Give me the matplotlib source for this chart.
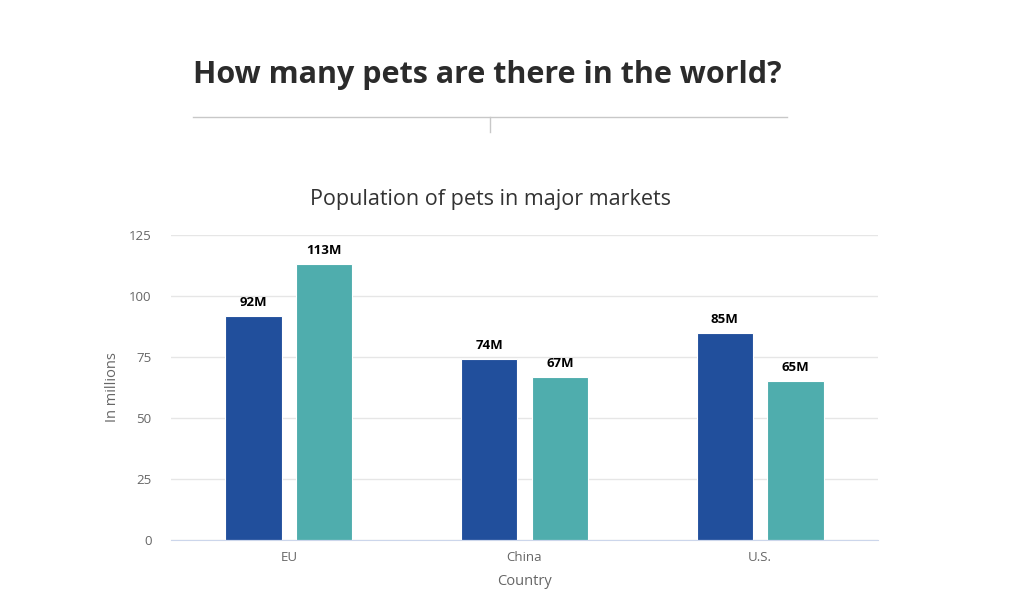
import numpy as np
import matplotlib.pyplot as plt

countries = ['EU', 'China', 'U.S.']
series_a = [92, 74, 85]
series_b = [113, 67, 65]
labels_a = ['92M', '74M', '85M']
labels_b = ['113M', '67M', '65M']
yticks = [0, 25, 50, 75, 100, 125]

BLUE = '#214f9c'
TEAL = '#4fadad'
GREY = '#666666'

plt.rcParams['font.family'] = ['Open Sans', 'DejaVu Sans']

fig = plt.figure(figsize=(10.24, 6.07), dpi=100)
ax = fig.add_axes([171 / 1024, 1 - 540 / 607, (878 - 171) / 1024, (540 - 235) / 607])

x = np.arange(len(countries))
w = 0.238
off = 0.15
bars_a = ax.bar(x - off, series_a, w, color=BLUE, edgecolor='white', linewidth=0.8, zorder=3)
bars_b = ax.bar(x + off, series_b, w, color=TEAL, edgecolor='white', linewidth=0.8, zorder=3)

for bars, labs in [(bars_a, labels_a), (bars_b, labels_b)]:
    for b, lab in zip(bars, labs):
        ax.annotate(lab, (b.get_x() + b.get_width() / 2, b.get_height()),
                    xytext=(0, 5), textcoords='offset points',
                    ha='center', va='bottom', fontsize=9.5, fontweight='bold',
                    color='black')

ax.set_xlim(-0.5, 2.5)
ax.set_ylim(0, 125)
ax.set_yticks(yticks)
ax.set_xticks(x)
ax.set_xticklabels(countries)
ax.tick_params(axis='both', length=0, labelsize=9.5, colors=GREY, pad=8)
ax.tick_params(axis='y', pad=14)
ax.yaxis.grid(True, color='#e6e6e6', linewidth=1, zorder=0)
for s in ['top', 'right', 'left']:
    ax.spines[s].set_visible(False)
ax.spines['bottom'].set_color('#ccd6eb')
ax.spines['bottom'].set_zorder(4)

ax.set_xlabel('Country', fontsize=10.5, color=GREY, labelpad=7)
ax.set_ylabel('In millions', fontsize=10.5, color=GREY, labelpad=6)

fig.text(490 / 1024, 1 - 200 / 607, 'Population of pets in major markets',
         ha='center', va='center', fontsize=15.5, color='#333333')

fig.text(193 / 1024, 1 - 75 / 607, 'How many pets are there in the world?',
         ha='left', va='center', fontsize=22, fontweight='bold', color='#2b2b2b')

fig.add_artist(plt.Line2D([193 / 1024, 787 / 1024], [1 - 117 / 607, 1 - 117 / 607],
                          color='#c8c8c8', linewidth=1))
fig.add_artist(plt.Line2D([490 / 1024, 490 / 1024], [1 - 117 / 607, 1 - 132 / 607],
                          color='#c8c8c8', linewidth=1))

fig.savefig('out.png', dpi=100)
